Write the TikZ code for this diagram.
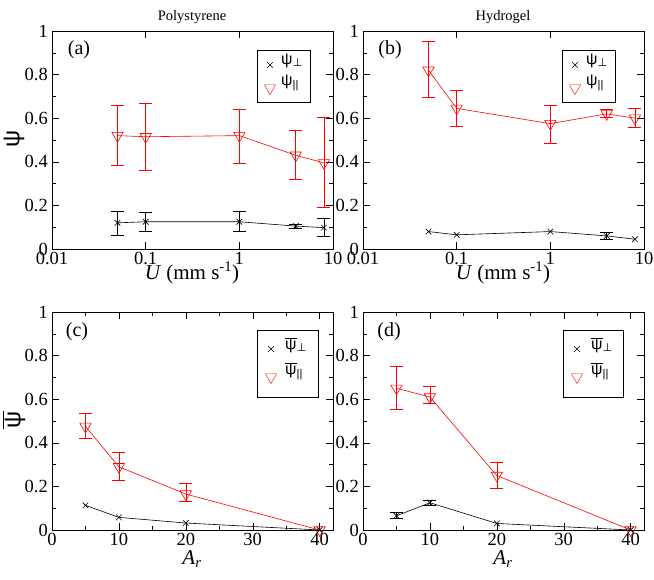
\documentclass[tikz,border=0pt]{standalone}
\usepackage{fontspec}
\setmainfont{Liberation Serif}
\newfontfamily\grk{Liberation Sans}
\newfontfamily\djv{DejaVu Sans}
\usetikzlibrary{plotmarks}
\newcommand{\ebar}[3]{\draw (#1,#2) -- (#1,#3) (#1,#2) ++(-6.5pt,0) -- ++(13pt,0) (#1,#3) ++(-6.5pt,0) -- ++(13pt,0);}
\newcommand{\yaxis}[1]{%
  \draw[thick] (0,0) rectangle (#1,1);
  \foreach \t in {0.2,0.4,0.6,0.8} {\draw (0,\t) -- ++(7pt,0); \draw (#1,\t) -- ++(-7pt,0);}
  \foreach \t in {0.1,0.3,0.5,0.7,0.9} {\draw (0,\t) -- ++(4pt,0); \draw (#1,\t) -- ++(-4pt,0);}
  \foreach \t/\l in {0/0,0.2/0.2,0.4/0.4,0.6/0.6,0.8/0.8,1/1} \node[ticklab,anchor=east] at (-3pt,\t) {\l};}
\newcommand{\psip}{{\grk ψ}\textsubscript{\djv\raisebox{0.2ex}{⊥}}}
\newcommand{\psil}{{\grk ψ}\textsubscript{\grk||}}
\newcommand{\bpsip}{$\overline{\mbox{\grk ψ}}$\textsubscript{\djv\raisebox{0.2ex}{⊥}}}
\newcommand{\bpsil}{$\overline{\mbox{\grk ψ}}$\textsubscript{\grk||}}
\begin{document}
\begin{tikzpicture}[x=1pt,y=1pt,
  ticklab/.style={font=\fontsize{18.5}{18.5}\selectfont, inner sep=1pt},
  redline/.style={red, line width=0.6pt},
  blkline/.style={black, line width=0.6pt},
  trimark/.style={mark=triangle, mark size=6.5pt, mark options={rotate=180,fill=none,solid}},
  xmk/.style={mark=x, mark size=4pt},
  legbox/.style={draw, line width=0.7pt, fill=white},
  leglab/.style={font=\fontsize{16}{16}\selectfont, anchor=west, inner sep=1pt},
  panlab/.style={font=\fontsize{20}{20}\selectfont},
  axlab/.style={font=\fontsize{21}{21}\selectfont}]
\useasboundingbox (0,0) rectangle (654,579);
% titles
\node[font=\fontsize{14.5}{14.5}\selectfont] (t1) at (192,562) {Polystyrene};
\node[font=\fontsize{14.5}{14.5}\selectfont] (t2) at (503,562) {Hydrogel};
% ---------- (a)
\begin{scope}[shift={(52,330)}, x=93.67pt, y=218pt]
  \yaxis{3}
  \foreach \t in {1,2} {\draw (\t,0) -- ++(0,7pt); \draw (\t,1) -- ++(0,-7pt);}
  \foreach \t/\l in {0/0.01,1/0.1,2/1,3/10} \node[ticklab,anchor=north] at (\t,-2pt) {\l};
  \draw[redline,trimark] plot coordinates {(0.699,0.52) (1,0.515) (2,0.52) (2.602,0.43) (2.903,0.395)};
  \begin{scope}[redline]
  \ebar{0.699}{0.385}{0.66}\ebar{1}{0.36}{0.67}\ebar{2}{0.395}{0.643}\ebar{2.602}{0.32}{0.545}\ebar{2.903}{0.19}{0.605}
  \end{scope}
  \draw[blkline,xmk] plot coordinates {(0.699,0.12) (1,0.125) (2,0.125) (2.602,0.105) (2.903,0.098)};
  \begin{scope}[blkline]
  \ebar{0.699}{0.065}{0.175}\ebar{1}{0.08}{0.17}\ebar{2}{0.08}{0.175}\ebar{2.602}{0.095}{0.115}\ebar{2.903}{0.06}{0.14}
  \end{scope}
\end{scope}
\node[panlab] (la) at (79,529) {(a)};
\node[axlab] (xa) at (192,306) {\textit{U} (mm s\textsuperscript{-1})};
\node[font=\fontsize{24}{24}\selectfont\grk, rotate=90] (ya) at (14,440) {ψ};
\draw[legbox] (257,477) rectangle (310,529);
\path[xmk] plot coordinates {(270,514)};
\path[red,trimark] plot coordinates {(270,491)};
\node[leglab] (lga1) at (280,518) {\psip};
\node[leglab] (lga2) at (280,496) {\psil};
% ---------- (b)
\begin{scope}[shift={(363,330)}, x=93.67pt, y=218pt]
  \yaxis{3}
  \foreach \t in {1,2} {\draw (\t,0) -- ++(0,7pt); \draw (\t,1) -- ++(0,-7pt);}
  \foreach \t/\l in {0/0.01,1/0.1,2/1,3/10} \node[ticklab,anchor=north] at (\t,-2pt) {\l};
  \draw[redline,trimark] plot coordinates {(0.699,0.82) (1,0.645) (2,0.575) (2.602,0.62) (2.903,0.6)};
  \begin{scope}[redline]
  \ebar{0.699}{0.695}{0.955}\ebar{1}{0.565}{0.73}\ebar{2}{0.485}{0.66}\ebar{2.602}{0.605}{0.64}\ebar{2.903}{0.56}{0.645}
  \end{scope}
  \draw[blkline,xmk] plot coordinates {(0.699,0.08) (1,0.065) (2,0.08) (2.602,0.06) (2.903,0.045)};
  \begin{scope}[blkline]
  \ebar{2.602}{0.045}{0.075}
  \end{scope}
\end{scope}
\node[panlab] (lb) at (390,529) {(b)};
\node[axlab] (xb) at (503,306) {\textit{U} (mm s\textsuperscript{-1})};
\draw[legbox] (562,477) rectangle (615,529);
\path[xmk] plot coordinates {(575,514)};
\path[red,trimark] plot coordinates {(575,491)};
\node[leglab] (lgb1) at (585,518) {\psip};
\node[leglab] (lgb2) at (585,496) {\psil};
% ---------- (c)
\begin{scope}[shift={(52,49)}, x=6.69pt, y=218pt]
  \yaxis{42}
  \foreach \t in {10,20,30,40} {\draw (\t,0) -- ++(0,7pt); \draw (\t,1) -- ++(0,-7pt);}
  \foreach \t in {5,15,25,35} {\draw (\t,0) -- ++(0,4pt); \draw (\t,1) -- ++(0,-4pt);}
  \foreach \t in {0,10,20,30,40} \node[ticklab,anchor=north] at (\t,-2pt) {\t};
  \draw[redline,trimark] plot coordinates {(5,0.475) (10,0.29) (20,0.165) (40,0)};
  \begin{scope}[redline]
  \ebar{5}{0.42}{0.535}\ebar{10}{0.23}{0.355}\ebar{20}{0.13}{0.215}
  \end{scope}
  \draw[blkline,xmk] plot coordinates {(5,0.113) (10,0.058) (20,0.032) (40,0)};
\end{scope}
\node[panlab] (lc) at (77,247) {(c)};
\node[axlab] (xc) at (192,20) {\textit{A}\textsubscript{\textit{r}}};
\node[font=\fontsize{24}{24}\selectfont, rotate=90] (yc) at (14,159) {$\overline{\mbox{\grk ψ}}$};
\draw[legbox] (257,182) rectangle (318,249);
\path[xmk] plot coordinates {(271,230)};
\path[red,trimark] plot coordinates {(271,202)};
\node[leglab] (lgc1) at (284,234) {\bpsip};
\node[leglab] (lgc2) at (284,208) {\bpsil};
% ---------- (d)
\begin{scope}[shift={(363,49)}, x=6.69pt, y=218pt]
  \yaxis{42}
  \foreach \t in {10,20,30,40} {\draw (\t,0) -- ++(0,7pt); \draw (\t,1) -- ++(0,-7pt);}
  \foreach \t in {5,15,25,35} {\draw (\t,0) -- ++(0,4pt); \draw (\t,1) -- ++(0,-4pt);}
  \foreach \t in {0,10,20,30,40} \node[ticklab,anchor=north] at (\t,-2pt) {\t};
  \draw[redline,trimark] plot coordinates {(5,0.65) (10,0.61) (20,0.25) (40,0)};
  \begin{scope}[redline]
  \ebar{5}{0.555}{0.75}\ebar{10}{0.58}{0.66}\ebar{20}{0.19}{0.31}
  \end{scope}
  \draw[blkline,xmk] plot coordinates {(5,0.065) (10,0.125) (20,0.03) (40,0)};
  \begin{scope}[blkline]
  \ebar{5}{0.055}{0.08}\ebar{10}{0.115}{0.135}
  \end{scope}
\end{scope}
\node[panlab] (ld) at (389,247) {(d)};
\node[axlab] (xd) at (503,20) {\textit{A}\textsubscript{\textit{r}}};
\draw[legbox] (563,182) rectangle (623,249);
\path[xmk] plot coordinates {(577,230)};
\path[red,trimark] plot coordinates {(577,202)};
\node[leglab] (lgd1) at (590,234) {\bpsip};
\node[leglab] (lgd2) at (590,208) {\bpsil};
\end{tikzpicture}
\end{document}
